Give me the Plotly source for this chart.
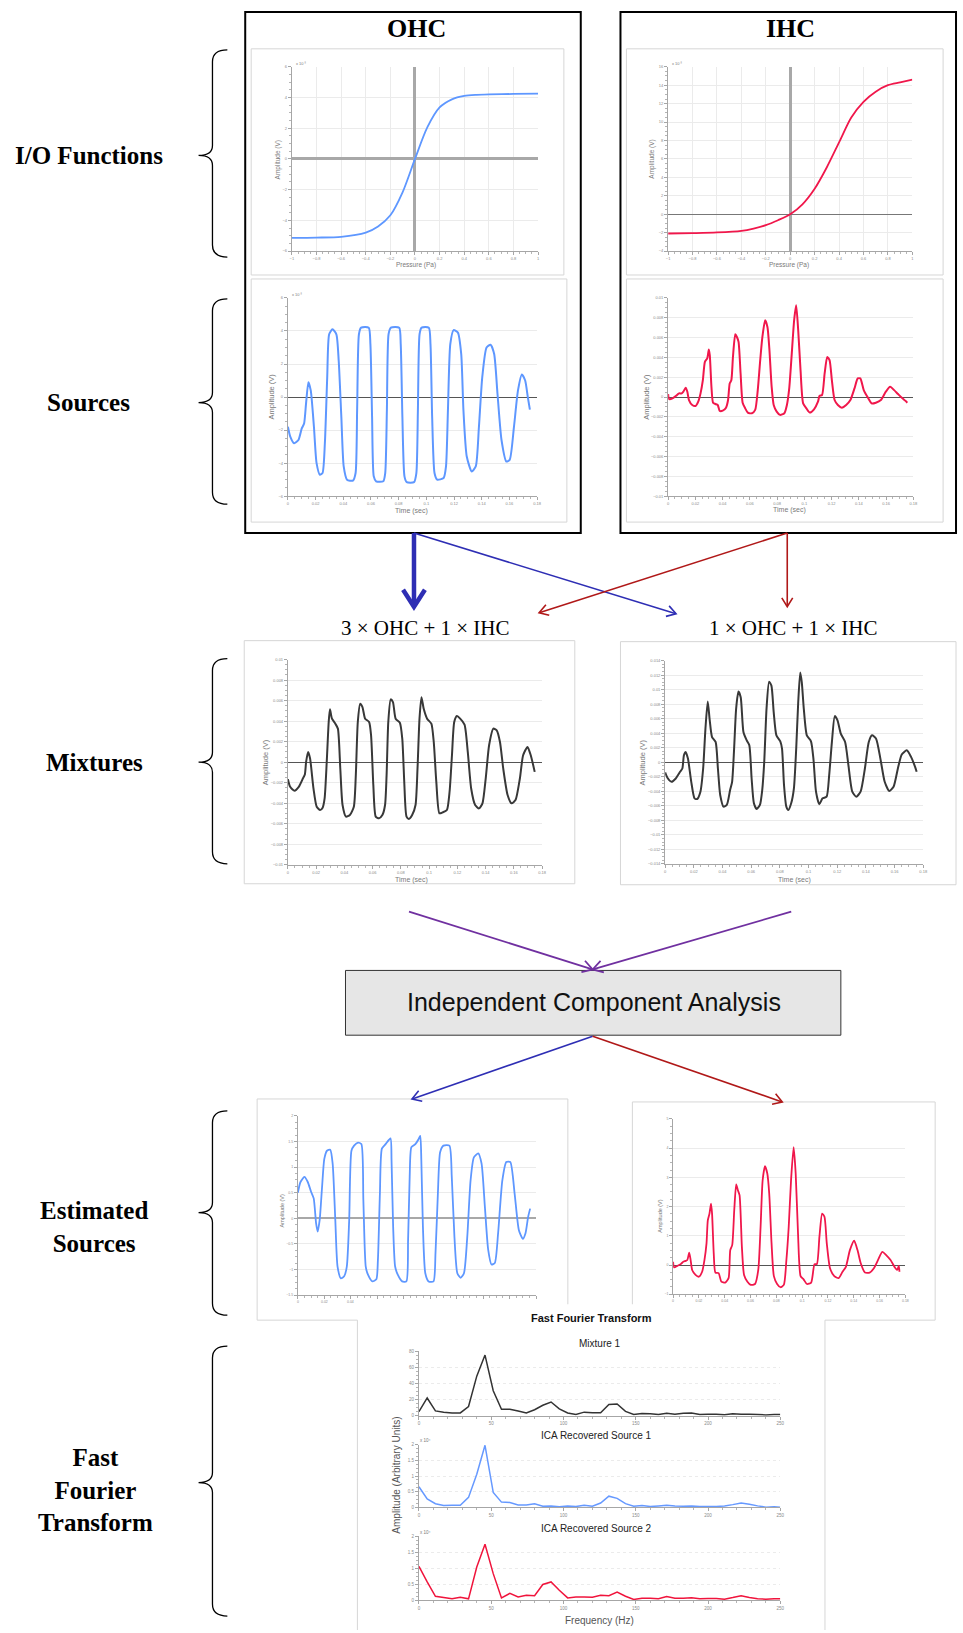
import math
import plotly.graph_objects as go

W, H = 963, 1633
SERIF = "Liberation Serif, Times New Roman, serif"
SANS = "Liberation Sans, Arial, sans-serif"

BLUE = "#5E97FF"
RED = "#F0174B"
DARK = "#383838"

# ---------------- data ----------------
# I/O functions (amplitude in x1e-3 V)
io_ohc_p = [-1, -0.8, -0.6, -0.4, -0.3, -0.2, -0.1, 0, 0.1, 0.2, 0.3, 0.4, 0.5, 0.6, 0.8, 1]
io_ohc_a = [-5.14, -5.12, -5.07, -4.8, -4.4, -3.67, -2.16, 0, 2.05, 3.35, 3.88, 4.1, 4.17, 4.2, 4.23, 4.25]
io_ihc_p = [-1, -0.8, -0.6, -0.4, -0.3, -0.2, -0.1, 0, 0.1, 0.2, 0.3, 0.4, 0.5, 0.6, 0.7, 0.8, 0.9, 1]
io_ihc_a = [-2.09, -2.05, -1.98, -1.8, -1.55, -1.19, -0.65, 0, 1.08, 2.77, 5.1, 7.8, 10.5, 12.2, 13.3, 14.0, 14.3, 14.6]

# Sources
src_ohc_t = [0, 0.0017, 0.0045, 0.0076, 0.01, 0.0117, 0.0131, 0.0148, 0.0165, 0.0188,
             0.0207, 0.0231, 0.025, 0.0267, 0.0284, 0.0298, 0.0322, 0.035, 0.0367, 0.0386,
             0.0403, 0.0427, 0.047, 0.0489, 0.05, 0.0513, 0.0529, 0.0584, 0.0596, 0.0608,
             0.062, 0.0637, 0.0689, 0.0703, 0.0715, 0.0727, 0.0744, 0.0804, 0.0815, 0.0827,
             0.0842, 0.0858, 0.0911, 0.0928, 0.0939, 0.0951, 0.0966, 0.1018, 0.103, 0.1042,
             0.1059, 0.1078, 0.1125, 0.1142, 0.1156, 0.1173, 0.1197, 0.1228, 0.1252, 0.1268,
             0.1292, 0.1328, 0.1357, 0.138, 0.1404, 0.1435, 0.1464, 0.149, 0.1514, 0.1543,
             0.1578, 0.1602, 0.1633, 0.1662, 0.169, 0.1714, 0.1733, 0.1748]
src_ohc_v = [-1.8, -2.4, -2.8, -2.6, -1.9, -1.6, -0.4, 0.9, 0.4, -1.8,
             -4.0, -4.7, -4.6, -2.8, 1.2, 3.8, 4.1, 3.8, 2.2, -1.2,
             -4.2, -5.0, -5.06, -4.6, -0.8, 3.8, 4.2, 4.2, 3.2, -1.2,
             -4.8, -5.1, -5.1, -4.6, -0.8, 3.8, 4.2, 4.2, 3.2, -1.2,
             -4.8, -5.15, -5.15, -4.6, -0.8, 3.8, 4.2, 4.2, 3.2, -1.2,
             -4.6, -5.0, -4.9, -4.2, -0.8, 3.2, 4.05, 3.9, 2.6, -0.8,
             -3.6, -4.5, -4.2, -1.8, 1.2, 3.0, 3.17, 2.6, 0.2, -2.6,
             -3.9, -3.8, -1.8, 0.4, 1.37, 1.0, 0, -0.76]

src_ihc_t = [0, 0.0007, 0.0032, 0.0056, 0.008, 0.01, 0.0112, 0.0129, 0.0141, 0.0153,
             0.0177, 0.0202, 0.0221, 0.0238, 0.0255, 0.027, 0.0287, 0.0299, 0.0306, 0.0318,
             0.033, 0.0347, 0.0364, 0.0379, 0.0401, 0.0425, 0.044, 0.0452, 0.0464, 0.0476,
             0.0493, 0.0505, 0.0517, 0.0532, 0.0547, 0.0566, 0.0585, 0.0615, 0.0639, 0.0658,
             0.0675, 0.0692, 0.0712, 0.0729, 0.0743, 0.076, 0.0775, 0.0797, 0.0821, 0.0853,
             0.0872, 0.0889, 0.0906, 0.0925, 0.094, 0.0955, 0.0972, 0.0991, 0.1015, 0.104,
             0.1071, 0.11, 0.1112, 0.113, 0.1149, 0.1168, 0.1185, 0.1202, 0.1222, 0.1246,
             0.1275, 0.1307, 0.1338, 0.1368, 0.1392, 0.1411, 0.1436, 0.1465, 0.1494, 0.1525,
             0.1562, 0.1598, 0.163, 0.1659, 0.1688, 0.172, 0.1744, 0.1756]
src_ihc_mv = [0.3, -0.2, -0.13, 0.1, 0.37, 0.37, 0.54, 0.94, 0.54, -0.3,
              -0.8, -0.9, -0.47, 0.37, 1.7, 3.55, 3.9, 4.8, 4.2, 1.04,
              -0.57, -0.7, -0.8, -1.4, -1.37, -1.07, -0.3, 1.37, 1.7, 4.05,
              6.33, 6.06, 5.56, 2.38, -0.57, -1.14, -1.57, -1.64, -1.3, 0.7,
              3.55, 6.06, 7.74, 7.07, 4.9, 1.04, -0.8, -1.47, -1.8, -1.64,
              -0.8, 0.87, 4.05, 7.74, 9.25, 6.73, 2.71, -0.64, -1.14, -1.57,
              -1.24, -0.47, 0.13, 0.2, 2.38, 4.05, 3.72, 1.7, -0.3, -0.8,
              -1.07, -0.8, -0.3, 0.87, 1.88, 1.88, 0.7, -0.03, -0.64, -0.57,
              -0.3, 0.54, 1.04, 0.7, 0.3, -0.13, -0.4, -0.57]

# Mixtures (mV)
mix1_t = [0, 0.0016, 0.0047, 0.0077, 0.0106, 0.012, 0.0129, 0.0143, 0.0157, 0.0181,
          0.0204, 0.0228, 0.0246, 0.026, 0.0275, 0.0289, 0.0298, 0.0312, 0.0336, 0.0354,
          0.0371, 0.0387, 0.0411, 0.0439, 0.0467, 0.0481, 0.0495, 0.0512, 0.0528, 0.0547,
          0.0575, 0.0589, 0.0605, 0.0622, 0.0645, 0.0669, 0.0688, 0.0699, 0.0711, 0.0728,
          0.0744, 0.0763, 0.0793, 0.081, 0.0824, 0.084, 0.0857, 0.088, 0.0904, 0.0918,
          0.0932, 0.0946, 0.0962, 0.0986, 0.1016, 0.1033, 0.1051, 0.1073, 0.1096, 0.1126,
          0.1145, 0.1162, 0.1178, 0.1197, 0.122, 0.1251, 0.1274, 0.1298, 0.1326, 0.1354,
          0.1378, 0.1401, 0.1425, 0.1455, 0.1479, 0.1502, 0.1525, 0.1556, 0.1584, 0.1612,
          0.1643, 0.1666, 0.1697, 0.172, 0.1748]
mix1_mv = [-1.65, -2.4, -2.78, -2.4, -1.59, -1.2, 0.03, 1.0, 0.36, -2.56,
           -4.34, -4.66, -4.43, -3.53, 0.03, 3.92, 5.15, 4.24, 3.75, 3.27,
           -0.61, -4.17, -5.3, -5.15, -4.34, -1.26, 3.92, 5.7, 5.37, 4.24,
           3.92, 2.62, -2.23, -5.3, -5.47, -5.15, -4.17, -1.26, 3.92, 6.12,
           5.86, 4.24, 3.85, 2.3, -1.9, -5.3, -5.53, -5.15, -4.17, -0.61,
           4.24, 6.34, 5.2, 4.24, 3.75, 1.97, -1.9, -4.98, -4.89, -4.66,
           -2.88, 0.68, 3.92, 4.5, 4.24, 3.66, 1.0, -2.56, -4.17, -4.5,
           -4.01, -1.59, 1.65, 3.27, 3.11, 1.97, -0.61, -3.2, -4.01, -3.69,
           -1.59, 0.68, 1.49, 0.68, -0.94]

mix2_t = [0, 0.0016, 0.0044, 0.0074, 0.0104, 0.012, 0.0131, 0.0143, 0.0159, 0.0182,
          0.0205, 0.0223, 0.0246, 0.0265, 0.0281, 0.0297, 0.0311, 0.0327, 0.0352, 0.0368,
          0.0384, 0.0407, 0.043, 0.0453, 0.0467, 0.0481, 0.0495, 0.0511, 0.0527, 0.0546,
          0.0569, 0.0587, 0.0603, 0.0619, 0.0638, 0.0661, 0.0677, 0.0691, 0.0707, 0.0725,
          0.0741, 0.0757, 0.0776, 0.0803, 0.0815, 0.0829, 0.0845, 0.0859, 0.0879, 0.0898,
          0.0914, 0.0928, 0.0942, 0.0953, 0.0967, 0.0988, 0.1017, 0.1034, 0.1052, 0.1075,
          0.1098, 0.1126, 0.1144, 0.1163, 0.1183, 0.1202, 0.1225, 0.1255, 0.1278, 0.1305,
          0.1333, 0.1363, 0.1393, 0.142, 0.1443, 0.1471, 0.1501, 0.1531, 0.1563, 0.1593,
          0.1623, 0.165, 0.1685, 0.1715, 0.1743, 0.1754]
mix2_mv = [-1.4, -2.15, -2.7, -2.24, -1.32, -0.87, 0.96, 1.42, 0.5, -2.7,
           -4.98, -5.07, -4.06, -0.87, 4.6, 8.36, 5.75, 3.47, 2.79, -0.87,
           -4.52, -6.12, -5.89, -3.84, -2.7, 1.87, 7.35, 9.73, 8.95, 4.16,
           3.0, 2.33, -2.24, -5.66, -6.44, -5.89, -3.84, 0.05, 7.35, 11.1,
           10.55, 6.9, 3.7, 2.88, 1.87, -3.15, -6.12, -6.58, -5.66, -3.6,
           1.87, 8.26, 12.37, 11.0, 7.35, 3.7, 2.88, 0.5, -4.06, -5.8,
           -4.98, -4.75, -1.78, 2.79, 6.35, 5.75, 3.93, 2.79, -0.41, -4.06,
           -4.75, -4.06, -0.87, 2.79, 3.7, 3.24, 0.5, -2.7, -3.97, -3.38,
           -0.87, 1.05, 1.64, 0.73, -0.64, -1.32]

# Estimated sources
est1_t = [0, 0.002, 0.005, 0.0075, 0.01, 0.012, 0.0138, 0.015, 0.0165, 0.0183,
          0.02, 0.022, 0.0245, 0.0263, 0.0283, 0.03, 0.0325, 0.035, 0.037, 0.0388,
          0.0405, 0.0425, 0.0455, 0.048, 0.0495, 0.0513, 0.053, 0.0563, 0.0593, 0.0605,
          0.062, 0.0635, 0.0663, 0.07, 0.0708, 0.072, 0.0735, 0.0755, 0.0788, 0.082,
          0.0833, 0.0845, 0.0858, 0.0888, 0.0913, 0.0925, 0.0933, 0.0945, 0.0963, 0.0988,
          0.1025, 0.104, 0.1058, 0.1075, 0.11, 0.1145, 0.1163, 0.1183, 0.1205, 0.123,
          0.1255, 0.128, 0.1305, 0.133, 0.1363, 0.1388, 0.1413, 0.1438, 0.1463, 0.1488,
          0.1513, 0.1545, 0.1575, 0.1605, 0.1638, 0.167, 0.17, 0.172, 0.174, 0.1755]
est1_v = [0.5, 0.71, 0.81, 0.71, 0.52, 0.39, -0.1, -0.26, -0.03, 0.61,
          1.16, 1.32, 1.34, 1.07, -0.03, -0.94, -1.17, -1.13, -0.94, -0.03,
          1.32, 1.42, 1.48, 1.45, 0.36, -0.94, -1.1, -1.23, -1.19, -0.81,
          0.48, 1.36, 1.45, 1.56, 1.13, -0.16, -0.94, -1.1, -1.23, -1.23,
          -0.42, 0.81, 1.39, 1.45, 1.55, 1.61, 1.13, -0.16, -1.07, -1.23,
          -1.23, -0.68, 0.48, 1.29, 1.42, 1.42, 0.81, -0.36, -1.07, -1.16,
          -1.07, -0.36, 0.74, 1.19, 1.27, 1.07, 0.23, -0.61, -0.9, -0.87,
          -0.29, 0.74, 1.1, 1.1, 0.48, -0.23, -0.4, -0.29, 0.03, 0.19]

est2_t = [0, 0.0008, 0.0033, 0.0059, 0.0079, 0.0097, 0.011, 0.0125, 0.0136, 0.0148,
          0.0174, 0.02, 0.0225, 0.0243, 0.0259, 0.0269, 0.0282, 0.0294, 0.0302, 0.0315,
          0.0328, 0.0353, 0.0374, 0.0404, 0.043, 0.0443, 0.0458, 0.0474, 0.0489, 0.0502,
          0.0515, 0.0533, 0.055, 0.0576, 0.0602, 0.0635, 0.066, 0.0678, 0.0694, 0.0712,
          0.073, 0.0745, 0.0763, 0.0781, 0.0806, 0.0832, 0.0858, 0.0878, 0.0896, 0.0914,
          0.0934, 0.095, 0.0968, 0.0988, 0.1011, 0.1037, 0.107, 0.1096, 0.1114, 0.1134,
          0.1155, 0.1173, 0.1191, 0.1216, 0.1249, 0.1283, 0.1313, 0.1339, 0.137, 0.1403,
          0.1429, 0.1454, 0.1487, 0.1523, 0.1556, 0.159, 0.1621, 0.1651, 0.1685, 0.1718,
          0.1736, 0.1749, 0.1754]
est2_v = [0.11, -0.08, -0.03, 0.03, 0.11, 0.14, 0.17, 0.42, 0.17, -0.17,
          -0.34, -0.4, -0.23, 0.17, 0.74, 1.53, 1.76, 2.1, 1.76, 0.4,
          -0.26, -0.28, -0.57, -0.6, -0.45, 0.51, 0.68, 1.88, 2.76, 2.56,
          2.39, 0.63, -0.34, -0.57, -0.68, -0.65, -0.17, 1.31, 2.9, 3.38,
          3.13, 2.44, 0.74, -0.38, -0.65, -0.76, -0.68, 0.17, 1.31, 2.9,
          4.03, 3.13, 1.08, -0.38, -0.49, -0.65, -0.6, 0.03, 0.03, 0.97,
          1.76, 1.65, 0.74, -0.11, -0.38, -0.45, -0.23, -0.06, 0.51, 0.83,
          0.51, 0.06, -0.26, -0.26, -0.11, 0.19, 0.45, 0.34, 0.17, -0.08,
          -0.17, -0.03, -0.23]

# FFT
fft_freq = [0, 5.7, 11.4, 17.1, 22.9, 28.6, 34.3, 40.0, 45.7, 51.4,
            57.1, 62.9, 68.6, 74.3, 80.0, 85.7, 91.4, 97.1, 102.9, 108.6,
            114.3, 120.0, 125.7, 131.4, 137.1, 142.9, 148.6, 154.3, 160.0, 165.7,
            171.4, 177.1, 182.9, 188.6, 194.3, 200.0, 205.7, 211.4, 217.1, 222.9,
            228.6, 234.3, 240.0, 245.7, 250.0]
fft_mix1 = [5, 22, 6, 4.5, 3.5, 3.5, 11.5, 49, 75, 31,
            8, 8.2, 6, 3.5, 7.5, 13, 17, 8.5, 3.5, 1.5,
            4.5, 3.7, 3.7, 14, 14.5, 5.5, 1.7, 2.9, 2.5, 1.5,
            3, 2, 3, 3.5, 1.6, 2, 2, 1.3, 2.4, 2,
            2, 1.7, 1, 1.7, 1.7]
fft_src1 = [0.66, 0.27, 0.12, 0.06, 0.07, 0.07, 0.32, 1.06, 1.98, 0.48,
            0.17, 0.16, 0.08, 0.08, 0.12, 0.04, 0.05, 0.02, 0.05, 0.03,
            0.07, 0.04, 0.14, 0.36, 0.29, 0.12, 0.04, 0.06, 0.03, 0.05,
            0.07, 0.05, 0.04, 0.05, 0.03, 0.03, 0.03, 0.05, 0.09, 0.14,
            0.1, 0.05, 0.01, 0.02, 0.01]
fft_src2 = [1.06, 0.57, 0.12, 0.08, 0.04, 0.09, 0.04, 1.04, 1.75, 0.83,
            0.07, 0.21, 0.1, 0.15, 0.14, 0.49, 0.57, 0.31, 0.07, 0.1,
            0.1, 0.09, 0.15, 0.14, 0.25, 0.12, 0.02, 0.06, 0.06, 0.04,
            0.11, 0.06, 0.06, 0.07, 0.04, 0.05, 0.05, 0.03, 0.08, 0.14,
            0.08, 0.04, 0.03, 0.04, 0.04]

est1_visible_ticks = [0, 0.02, 0.04]
est1_visible_labels = ["0", "0.02", "0.04"]

# ---------------- helpers ----------------
def X(px):
    return px / W


def Y(py):
    return 1 - py / H


def base_axis(rng, dtick, minor, grid=False, zeroline=False, zc="#999", zw=1,
              size=4, griddash="solid", labels=True):
    return dict(range=rng, dtick=dtick, tick0=rng[0], showline=True, linecolor="#a6a6a6",
                linewidth=1, ticks="outside", ticklen=3, tickwidth=0.8, tickcolor="#a6a6a6",
                tickfont=dict(family=SANS, size=size, color="#8a8a8a"), showgrid=grid,
                gridcolor="#ebebeb", gridwidth=1, griddash=griddash, zeroline=zeroline,
                zerolinecolor=zc, zerolinewidth=zw, exponentformat="none", fixedrange=True,
                showticklabels=labels,
                minor=dict(dtick=minor, ticks="outside", ticklen=2, tickcolor="#b5b5b5", showgrid=False))


layout_axes = {}
axis_px = {}


def add_axes(i, xpx, ypx, xcfg, ycfg):
    xk = "xaxis" if i == 1 else f"xaxis{i}"
    yk = "yaxis" if i == 1 else f"yaxis{i}"
    xcfg = dict(xcfg, domain=[X(xpx[0]), X(xpx[1])], anchor="y" if i == 1 else f"y{i}")
    ycfg = dict(ycfg, domain=[Y(ypx[1]), Y(ypx[0])], anchor="x" if i == 1 else f"x{i}")
    layout_axes[xk] = xcfg
    layout_axes[yk] = ycfg
    axis_px[i] = (xpx, ypx, xcfg["range"])


fig = go.Figure()


def add_line(i, x, y, color, width=1.8, smooth=0.6):
    fig.add_trace(go.Scatter(x=x, y=y, mode="lines", xaxis="x" if i == 1 else f"x{i}",
                             yaxis="y" if i == 1 else f"y{i}", showlegend=False, hoverinfo="skip",
                             line=dict(color=color, width=width, shape="spline", smoothing=smooth)))


# 1 OHC I/O
add_axes(1, (292, 540), (64, 249),
         base_axis([-1, 1], 0.2, 0.05, grid=True, zeroline=True, zc="#a8a8a8", zw=2.5),
         base_axis([-6, 6], 2, 0.5, grid=True, zeroline=True, zc="#a8a8a8", zw=2.5))
add_line(1, io_ohc_p, io_ohc_a, BLUE, 1.8, 0.8)
# 2 IHC I/O
add_axes(2, (671, 917), (64, 249),
         base_axis([-1, 1], 0.2, 0.05, grid=True, zeroline=True, zc="#a8a8a8", zw=2.5),
         base_axis([-4, 16], 2, 0.5, grid=True, zeroline=True, zc="#777", zw=1.2))
add_line(2, io_ihc_p, io_ihc_a, RED, 1.8, 0.8)
# 3 OHC source
add_axes(3, (288, 539), (296, 495),
         base_axis([0, 0.18], 0.02, 0.005),
         base_axis([-6, 6], 2, 0.5, grid=True, zeroline=True, zc="#555", zw=1.3))
add_line(3, src_ohc_t, src_ohc_v, BLUE, 2)
# 4 IHC source
add_axes(4, (671, 918), (296, 495),
         base_axis([0, 0.18], 0.02, 0.005),
         base_axis([-0.01, 0.01], 0.002, 0.0005, grid=True, zeroline=True, zc="#555", zw=1.3))
add_line(4, src_ihc_t, [v * 1e-3 for v in src_ihc_mv], RED, 2)
# 5 Mixture 1
add_axes(5, (288, 544), (659, 865),
         base_axis([0, 0.18], 0.02, 0.005),
         base_axis([-0.01, 0.01], 0.002, 0.0005, grid=True, zeroline=True, zc="#555", zw=1.3))
add_line(5, mix1_t, [v * 1e-3 for v in mix1_mv], DARK, 2)
# 6 Mixture 2
add_axes(6, (668, 928), (660, 864),
         base_axis([0, 0.18], 0.02, 0.005),
         base_axis([-0.014, 0.014], 0.002, 0.0005, grid=True, zeroline=True, zc="#555", zw=1.3))
add_line(6, mix2_t, [v * 1e-3 for v in mix2_mv], DARK, 2)
# 7 Estimated source 1 (tick labels partly hidden behind FFT panel)
add_axes(7, (298, 538), (1117, 1297),
         base_axis([0, 0.18], 0.02, 0.005, size=3.5, labels=False),
         base_axis([-1.5, 2], 0.5, 0.125, grid=True, zeroline=True, zc="#a8a8a8", zw=2, size=3.5))
add_line(7, est1_t, est1_v, BLUE, 1.8)
# 8 Estimated source 2
add_axes(8, (676, 910), (1120, 1296),
         base_axis([0, 0.18], 0.02, 0.005, size=3.5),
         base_axis([-1, 5], 1, 0.25, grid=True, zeroline=True, zc="#555", zw=1.2, size=3.5))
add_line(8, est2_t, est2_v, RED, 1.8)
# 9-11 FFT
add_axes(9, (420, 784), (1353, 1418),
         base_axis([0, 250], 50, 10, size=4.5),
         base_axis([0, 80], 20, 5, grid=True, griddash="dot", size=4.5))
add_line(9, fft_freq, fft_mix1, "#333333", 1.5, 0)
add_axes(10, (420, 784), (1447, 1510),
         base_axis([0, 250], 50, 10, size=4.5),
         base_axis([0, 2], 0.5, 0.125, grid=True, griddash="dot", size=4.5))
add_line(10, fft_freq, fft_src1, "#6699FF", 1.5, 0)
add_axes(11, (420, 784), (1539, 1603),
         base_axis([0, 250], 50, 10, size=4.5),
         base_axis([0, 2], 0.5, 0.125, grid=True, griddash="dot", size=4.5))
add_line(11, fft_freq, fft_src2, "#F0143C", 1.5, 0)

# ---------------- shapes ----------------
shapes = []


def rect(x0, y0, x1, y1, line="#d6d6d6", lw=1, fill="white", layer="below"):
    shapes.append(dict(type="rect", xref="paper", yref="paper", x0=X(x0), x1=X(x1), y0=Y(y1), y1=Y(y0),
                       line=dict(color=line, width=lw), fillcolor=fill, layer=layer))


def seg(x0, y0, x1, y1, color, width, layer="below"):
    shapes.append(dict(type="line", xref="paper", yref="paper", x0=X(x0), y0=Y(y0), x1=X(x1), y1=Y(y1),
                       line=dict(color=color, width=width), layer=layer))


panels = [(251, 46, 566, 273), (629, 46, 948, 273), (251, 277, 569, 521), (629, 277, 948, 521),
          (244, 640, 577, 884), (623, 641, 961, 885), (257, 1100, 570, 1322), (635, 1103, 940, 1322)]
for p in panels:
    rect(*p)
# FFT panel: white sheet over the lower part of the estimated-source panels
rect(358, 1306, 829, 1650, line="rgba(0,0,0,0)", lw=0)
seg(358, 1322, 358, 1633, "#d6d6d6", 1)
seg(829, 1322, 829, 1633, "#d6d6d6", 1)
rect(245, 9, 583, 532, line="black", lw=2, fill="rgba(0,0,0,0)")
rect(623, 9, 961, 532, line="black", lw=2, fill="rgba(0,0,0,0)")
rect(346, 971, 845, 1036, line="#333", lw=1, fill="#e6e6e6")


def P(x, y):
    return f"{X(x):.5f},{Y(y):.5f}"


def brace(top, bottom, mid, xe=227, xs=212, xt=198):
    path = (f"M{P(xe, top)} Q{P(xs, top)} {P(xs, top + 12)} L{P(xs, mid - 10)} "
            f"Q{P(xs, mid)} {P(xt, mid)} Q{P(xs, mid)} {P(xs, mid + 10)} "
            f"L{P(xs, bottom - 12)} Q{P(xs, bottom)} {P(xe, bottom)}")
    shapes.append(dict(type="path", xref="paper", yref="paper", path=path,
                       line=dict(color="black", width=1.3), layer="above"))


for t, b, m in [(47, 255, 153), (297, 503, 401), (658, 864, 762), (1112, 1317, 1214), (1348, 1619, 1485)]:
    brace(t, b, m)


def arrow(tail, head, color, width, hl, hw):
    dx, dy = head[0] - tail[0], head[1] - tail[1]
    n = math.hypot(dx, dy)
    ux, uy = dx / n, dy / n
    px_, py_ = -uy, ux
    back = width * 0.6
    seg(tail[0], tail[1], head[0] - ux * back, head[1] - uy * back, color, width, layer="above")
    a = (head[0] - ux * hl + px_ * hw, head[1] - uy * hl + py_ * hw)
    b = (head[0] - ux * hl - px_ * hw, head[1] - uy * hl - py_ * hw)
    path = f"M{P(*a)} L{P(*head)} L{P(*b)}"
    shapes.append(dict(type="path", xref="paper", yref="paper", path=path,
                       line=dict(color=color, width=width), layer="above"))


ABLUE = "#2E2EB4"
ARED = "#B01818"
PURPLE = "#7030A0"
arrow((415, 532), (415, 606), ABLUE, 4.5, 17, 11)
arrow((415, 532), (679, 613), ABLUE, 1.6, 9, 5.5)
arrow((791, 532), (541, 612), ARED, 1.6, 9, 5.5)
arrow((791, 532), (791, 606), ARED, 1.6, 9, 5.5)
arrow((410, 912), (595, 970), PURPLE, 1.8, 10, 6)
arrow((795, 912), (595, 970), PURPLE, 1.8, 10, 6)
arrow((595, 1037), (413, 1100), ABLUE, 1.6, 9, 5.5)
arrow((595, 1037), (786, 1103), ARED, 1.6, 9, 5.5)

# ---------------- annotations ----------------
ann = []


def text(x, y, s, size, family=SANS, color="black", angle=0, bold=False, xanchor="center"):
    if bold:
        s = f"<b>{s}</b>"
    ann.append(dict(xref="paper", yref="paper", x=X(x), y=Y(y), text=s, showarrow=False,
                    font=dict(family=family, size=size, color=color), textangle=angle,
                    xanchor=xanchor, yanchor="middle"))


text(418, 26, "OHC", 26, SERIF, bold=True)
text(794, 26, "IHC", 26, SERIF, bold=True)
text(88, 153, "I/O Functions", 25, SERIF, bold=True)
text(87, 401, "Sources", 25, SERIF, bold=True)
text(93, 762, "Mixtures", 25, SERIF, bold=True)
text(93, 1229, "Estimated<br>Sources", 25, SERIF, bold=True)
text(94, 1492, "Fast<br>Fourier<br>Transform", 25, SERIF, bold=True)
text(427, 627, "3 × OHC + 1 × IHC", 21, SERIF)
text(797, 627, "1 × OHC + 1 × IHC", 21, SERIF)
text(596, 1003, "Independent Component Analysis", 25, SANS, color="#111")

GR = "#7a7a7a"
# axis titles
text(278, 157, "Amplitude (V)", 6.5, color=GR, angle=-90)
text(417, 263, "Pressure (Pa)", 6.5, color=GR)
text(655, 157, "Amplitude (V)", 6.5, color=GR, angle=-90)
text(793, 263, "Pressure (Pa)", 6.5, color=GR)
text(272, 395, "Amplitude (V)", 7.5, color=GR, angle=-90)
text(413, 510, "Time (sec)", 7, color=GR)
text(649, 395, "Amplitude (V)", 7.5, color=GR, angle=-90)
text(793, 509, "Time (sec)", 7, color=GR)
text(265, 762, "Amplitude (V)", 7.5, color=GR, angle=-90)
text(413, 880, "Time (sec)", 7, color=GR)
text(645, 762, "Amplitude (V)", 7.5, color=GR, angle=-90)
text(798, 880, "Time (sec)", 7, color=GR)
text(282, 1212, "Amplitude (V)", 5.5, color=GR, angle=-90)
text(662, 1218, "Amplitude (V)", 5.5, color=GR, angle=-90)
# visible x tick labels of estimated source 1 (placed through its axis scale)
(ex0, ex1), (ey0, ey1), (er0, er1) = axis_px[7]
for v, lab in zip(est1_visible_ticks, est1_visible_labels):
    text(ex0 + (v - er0) / (er1 - er0) * (ex1 - ex0), ey1 + 7, lab, 3.5, color="#8a8a8a")
# exponent labels
text(294, 61, "x 10⁻³", 4, color=GR, xanchor="left")
text(673, 61, "x 10⁻³", 4, color=GR, xanchor="left")
text(290, 293, "x 10⁻³", 4, color=GR, xanchor="left")
text(419, 1443, "x 10⁴", 4.5, color=GR, xanchor="left")
text(419, 1535, "x 10⁴", 4.5, color=GR, xanchor="left")
# FFT texts
text(594, 1320, "Fast Fourier Transform", 11, bold=True, color="#111")
text(602, 1345, "Mixture 1", 10, color="#222")
text(598, 1438, "ICA Recovered Source 1", 10, color="#222")
text(598, 1531, "ICA Recovered Source 2", 10, color="#222")
text(397, 1478, "Amplitude (Arbitrary Units)", 10, color="#555", angle=-90)
text(602, 1623, "Frequency (Hz)", 10, color="#555")

fig.update_layout(width=W, height=H, autosize=False, margin=dict(l=0, r=0, t=0, b=0, pad=0),
                  paper_bgcolor="white", plot_bgcolor="rgba(0,0,0,0)", showlegend=False,
                  shapes=shapes, annotations=ann, **layout_axes)
fig.write_html("out.html")
